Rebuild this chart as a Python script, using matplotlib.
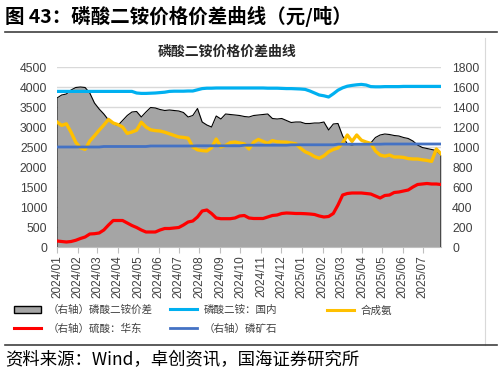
import pandas as pd
import matplotlib
matplotlib.use("Agg")
import matplotlib.pyplot as plt
from matplotlib.lines import Line2D
from matplotlib.patches import Patch

plt.rcParams["font.family"] = ["Liberation Sans", "Noto Sans CJK SC"]
CJK = ["Noto Sans CJK SC", "DejaVu Sans"]

# weekly observations, 2024-01-01 .. 2025-07-29
dates = pd.date_range("2024-01-01", periods=83, freq="7D")
month_ticks = pd.date_range("2024-01-01", "2025-07-01", freq="MS")
month_labels = [d.strftime("%Y/%m") for d in month_ticks]

# (right axis) DAP spread
spread = [1490, 1520, 1530, 1570, 1595, 1600, 1595, 1540, 1440, 1380,
          1330, 1270, 1235, 1215, 1265, 1315, 1350, 1355, 1300, 1350,
          1395, 1390, 1375, 1365, 1370, 1365, 1360, 1345, 1300, 1315,
          1385, 1250, 1220, 1200, 1310, 1280, 1330, 1325, 1320, 1315,
          1305, 1300, 1315, 1320, 1325, 1330, 1285, 1280, 1285, 1265,
          1245, 1250, 1250, 1235, 1235, 1240, 1240, 1250, 1170, 1230,
          1235, 1110, 1030, 1020, 1030, 1035, 1035, 1040, 1095, 1120,
          1130, 1125, 1115, 1110, 1095, 1085, 1060, 1020, 995, 985,
          975, 965, 920]
# (left axis) DAP domestic price
dap_domestic = [3890, 3890, 3890, 3890, 3890, 3890, 3890, 3890, 3890, 3890,
                3890, 3890, 3890, 3890, 3890, 3890, 3890, 3850, 3840, 3840,
                3845, 3850, 3860, 3870, 3890, 3895, 3895, 3895, 3900, 3900,
                3930, 3960, 3970, 3970, 3975, 3975, 3975, 3975, 3975, 3975,
                3975, 3975, 3975, 3975, 3975, 3970, 3970, 3970, 3965, 3960,
                3960, 3955, 3950, 3940, 3900, 3850, 3800, 3780, 3750, 3830,
                3920, 3980, 4020, 4040, 4055, 4065, 4050, 4010, 4005, 4005,
                4010, 4010, 4010, 4010, 4015, 4015, 4015, 4015, 4015, 4015,
                4015, 4015, 4015]
# (left axis) synthetic ammonia
ammonia = [3125, 3040, 3080, 2870, 2620, 2480, 2440, 2650, 2780, 2920,
           3050, 3190, 3100, 3060, 3000, 2840, 2875, 2920, 3120, 3000,
           2930, 2910, 2900, 2870, 2830, 2790, 2750, 2740, 2720, 2500,
           2430, 2410, 2400, 2480, 2700, 2500, 2540, 2610, 2625, 2600,
           2580, 2450, 2620, 2690, 2640, 2590, 2660, 2630, 2625, 2620,
           2600, 2580, 2470, 2380, 2330, 2260, 2220, 2280, 2380, 2440,
           2475, 2600, 2800, 2640, 2800, 2670, 2625, 2590, 2400, 2300,
           2270, 2300, 2250, 2250, 2240, 2210, 2200, 2200, 2180, 2165,
           2140, 2450, 2330]
# (right axis) sulfuric acid, East China
sulfuric = [60, 55, 50, 55, 67, 85, 100, 130, 133, 140,
            170, 220, 265, 265, 265, 240, 215, 195, 170, 150,
            150, 150, 170, 185, 185, 190, 195, 220, 250, 260,
            300, 360, 370, 335, 290, 283, 283, 283, 290, 310,
            315, 290, 285, 285, 285, 300, 315, 320, 335, 340,
            338, 335, 335, 333, 330, 325, 310, 300, 305, 335,
            420, 520, 535, 540, 540, 540, 535, 530, 510, 490,
            515, 520, 545, 550, 560, 570, 600, 625, 630, 635,
            630, 630, 625]
# (right axis) phosphate rock
rock = [1000, 1000, 1000, 1000, 1000, 1000, 1000, 1000, 1000, 1000,
        1005, 1005, 1005, 1005, 1005, 1005, 1005, 1005, 1005, 1005,
        1010, 1010, 1010, 1010, 1010, 1010, 1010, 1010, 1010, 1010,
        1012, 1012, 1012, 1012, 1012, 1012, 1012, 1012, 1012, 1012,
        1018, 1018, 1018, 1018, 1018, 1018, 1018, 1018, 1018, 1018,
        1022, 1022, 1022, 1022, 1022, 1022, 1022, 1022, 1022, 1022,
        1028, 1028, 1028, 1028, 1028, 1028, 1028, 1028, 1028, 1028,
        1030, 1030, 1030, 1030, 1030, 1030, 1030, 1030, 1030, 1030,
        1030, 1030, 1030]

W, H = 502, 373
fig = plt.figure(figsize=(W / 100, H / 100), dpi=100)


def fx(px):
    return px / W


def fy(py):
    return 1 - py / H


pos = [fx(57), fy(247), fx(441) - fx(57), fy(67) - fy(247)]

# base axes: right scale, grey area + gridlines
ax = fig.add_axes(pos)
axl = ax.twinx()
axt = ax.twinx()

ax.fill_between(dates, spread, 0, color="#A5A5A5", linewidth=0, zorder=2)
ax.plot([dates[0]] + list(dates) + [dates[-1]], [0] + spread + [0],
        color="black", lw=0.8, zorder=3)
ax.set_ylim(0, 1800)
ax.set_yticks(range(0, 1801, 200))
ax.grid(axis="y", color="#D9D9D9", lw=1.0, zorder=0)
ax.set_axisbelow(True)
ax.set_xlim(dates[0], dates[-1])
ax.set_xticks(month_ticks)
ax.set_xticklabels(month_labels, rotation=90, fontsize=8.5, color="#404040")
ax.tick_params(axis="x", length=4, color="#BFBFBF", pad=2)

# left axis lines
axl.plot(dates, dap_domestic, color="#00B0F0", lw=2.3)
axl.plot(dates, ammonia, color="#FFC000", lw=2.4)
axl.set_ylim(0, 4500)
axl.set_yticks(range(0, 4501, 500))

# right axis lines on top
axt.plot(dates, sulfuric, color="#FF0000", lw=2.3)
axt.plot(dates, rock, color="#4472C4", lw=2.0)
axt.set_ylim(0, 1800)
axt.set_yticks([])

ax.yaxis.tick_right()
axl.yaxis.tick_left()
ax.tick_params(axis="y", length=0, pad=8, labelsize=8.8, labelcolor="#404040")
axl.tick_params(axis="y", length=0, pad=7, labelsize=8.8, labelcolor="#404040")

for a in (ax, axl, axt):
    for s in a.spines.values():
        s.set_visible(False)
ax.spines["bottom"].set_visible(True)
ax.spines["bottom"].set_color("#BFBFBF")

# legend, three columns of equal width
lg_font = {"family": CJK, "size": 7.6}
cols = [
    (14, [Patch(facecolor="#A5A5A5", edgecolor="black", lw=1.0),
          Line2D([], [], color="#FF0000", lw=2.2)],
     ["（右轴）磷酸二铵价差", "（右轴）硫酸：华东"]),
    (170, [Line2D([], [], color="#00B0F0", lw=2.2),
           Line2D([], [], color="#4472C4", lw=2.0)],
     ["磷酸二铵：国内", "（右轴）磷矿石"]),
    (327, [Line2D([], [], color="#FFC000", lw=2.2)], ["合成氨"]),
]
for x0, handles, labels in cols:
    lg = fig.legend(handles, labels, loc="upper left",
                    bbox_to_anchor=(fx(x0), fy(305)), frameon=False,
                    prop=lg_font, handlelength=2.6, handletextpad=0.6,
                    labelspacing=0.8, borderaxespad=0, borderpad=0)
    for t in lg.get_texts():
        t.set_color("#404040")

# titles, rules, source
fig.text(fx(5), fy(16), "图 43：磷酸二铵价格价差曲线（元/吨）", family=CJK,
         fontsize=14, fontweight="bold", va="center", ha="left")
fig.add_artist(Line2D([fx(5), fx(497)], [fy(32), fy(32)], color="#404040", lw=1.2))
fig.text(fx(227), fy(52), "磷酸二铵价格价差曲线", family=CJK, fontsize=10,
         fontweight="bold", ha="center", va="center", color="#262626")
fig.add_artist(Line2D([fx(485), fx(485)], [fy(38), fy(345)], color="#D9D9D9", lw=0.8))
fig.add_artist(Line2D([fx(5), fx(497)], [fy(345), fy(345)], color="#404040", lw=1.2))
fig.text(fx(5), fy(360), "资料来源：Wind，卓创资讯，国海证券研究所", family=CJK,
         fontsize=12.5, va="center", ha="left")

fig.savefig("out.png", dpi=100)
